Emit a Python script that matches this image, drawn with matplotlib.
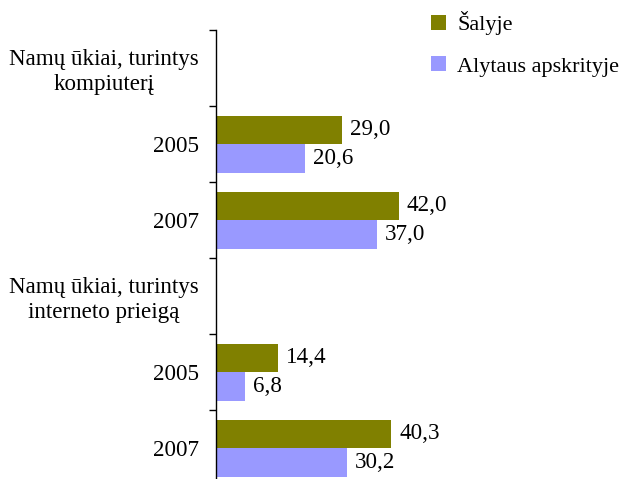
import matplotlib
matplotlib.use("Agg")
import matplotlib.pyplot as plt
import numpy as np

categories = ["Namų ūkiai, turintys\nkompiuterį", "2005", "2007",
              "Namų ūkiai, turintys\ninterneto prieigą", "2005", "2007"]
salyje = [None, 29.0, 42.0, None, 14.4, 40.3]
alytaus = [None, 20.6, 37.0, None, 6.8, 30.2]
series_names = ["Šalyje", "Alytaus apskrityje"]
colors = ["#808000", "#9999FF"]

plt.rcParams['font.family'] = ['Liberation Serif', 'DejaVu Serif']
fs = 16.6
lfs = 16
fig = plt.figure(figsize=(6.28, 4.79), dpi=100)
W, H = 628, 479
x0, x1 = 215.5, 628
ytop, ybot = 30, 486
ax = fig.add_axes([x0 / W, 1 - ybot / H, (x1 - x0) / W, (ybot - ytop) / H])

pos = np.arange(len(categories))
bh = 0.375
for vals, name, c, off in [(salyje, series_names[0], colors[0], -bh / 2),
                           (alytaus, series_names[1], colors[1], bh / 2)]:
    idx = [i for i, v in enumerate(vals) if v is not None]
    v = [vals[i] for i in idx]
    bars = ax.barh(pos[idx] + off, v, height=bh, color=c, label=name)
    for b, val in zip(bars, v):
        ax.text(b.get_width() + 1.8, b.get_y() + b.get_height() / 2,
                f"{val:.1f}".replace(".", ","), va='center', ha='left', fontsize=fs)

ax.set_xlim(0, (x1 - x0) / 4.36)
ax.set_ylim(len(categories) - 0.5, -0.5)
for s in ['top', 'right', 'bottom']:
    ax.spines[s].set_visible(False)
ax.spines['left'].set_linewidth(1.0)
ax.set_xticks([])
ax.set_yticks(pos)
ax.set_yticklabels(categories, fontsize=fs, multialignment='center', linespacing=1.2)
ax.tick_params(axis='y', which='major', length=0, pad=12)
ax.set_yticks(np.arange(-0.5, len(categories), 1.0), minor=True)
ax.tick_params(axis='y', which='minor', length=5, width=1.0)

leg = fig.legend(loc='upper left', bbox_to_anchor=(431 / W, 1 - 11 / H), frameon=False,
                 fontsize=lfs, handlelength=0.68, handleheight=0.68, labelspacing=0.95,
                 handletextpad=0.5, borderpad=0, borderaxespad=0)
fig.savefig("out.png", dpi=100)
